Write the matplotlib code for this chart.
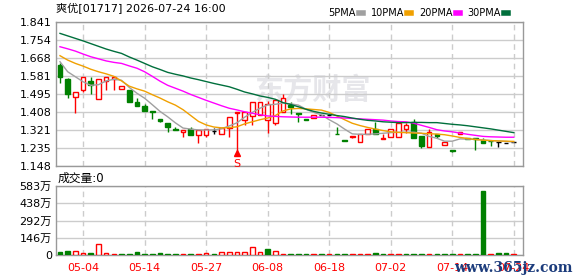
import numpy as np
import matplotlib
matplotlib.use('Agg')
import matplotlib.pyplot as plt
from matplotlib.lines import Line2D

plt.rcParams['font.family'] = ['DejaVu Sans', 'Noto Sans CJK SC']

# 日K 数据
opens = [1.632, 1.565, 1.477, 1.514, 1.556, 1.468, 1.557, 1.564, 1.516, 1.513,
         1.455, 1.436, 1.410, 1.372, 1.354, 1.324, 1.313, 1.324, 1.297, 1.297,
         1.317, 1.303, 1.329, 1.404, 1.369, 1.389, 1.393, 1.367, 1.353, 1.409,
         1.441, 1.402, 1.373, 1.378, 1.392, 1.393, 1.302, 1.273, 1.288, 1.265,
         1.303, 1.324, 1.276, 1.286, 1.286, 1.327, 1.361, 1.292, 1.238, 1.302,
         1.247, 1.224, 1.303, 1.283, 1.282, 1.273, 1.269, 1.263, 1.260, 1.263]
closes = [1.576, 1.493, 1.501, 1.573, 1.537, 1.564, 1.573, 1.576, 1.530, 1.457,
          1.437, 1.413, 1.405, 1.362, 1.337, 1.321, 1.322, 1.297, 1.322, 1.324,
          1.317, 1.329, 1.381, 1.409, 1.409, 1.453, 1.453, 1.444, 1.463, 1.473,
          1.433, 1.396, 1.370, 1.393, 1.392, 1.393, 1.300, 1.266, 1.290, 1.301,
          1.324, 1.303, 1.284, 1.325, 1.356, 1.343, 1.284, 1.246, 1.309, 1.294,
          1.262, 1.222, 1.309, 1.279, 1.276, 1.257, 1.267, 1.263, 1.260, 1.263]
highs = [1.644, 1.568, 1.501, 1.573, 1.575, 1.564, 1.573, 1.578, 1.530, 1.513,
         1.474, 1.445, 1.410, 1.372, 1.354, 1.333, 1.322, 1.333, 1.322, 1.324,
         1.332, 1.329, 1.381, 1.409, 1.409, 1.453, 1.453, 1.460, 1.463, 1.493,
         1.453, 1.402, 1.373, 1.393, 1.392, 1.393, 1.335, 1.273, 1.290, 1.301,
         1.324, 1.361, 1.300, 1.325, 1.356, 1.356, 1.372, 1.292, 1.324, 1.302,
         1.262, 1.224, 1.309, 1.283, 1.282, 1.284, 1.269, 1.263, 1.260, 1.263]
lows = [1.548, 1.476, 1.404, 1.505, 1.495, 1.468, 1.514, 1.514, 1.516, 1.457,
        1.437, 1.413, 1.375, 1.357, 1.313, 1.321, 1.286, 1.297, 1.258, 1.286,
        1.301, 1.303, 1.286, 1.209, 1.345, 1.345, 1.393, 1.305, 1.345, 1.409,
        1.399, 1.357, 1.370, 1.378, 1.392, 1.393, 1.300, 1.266, 1.282, 1.265,
        1.303, 1.303, 1.276, 1.286, 1.286, 1.305, 1.284, 1.236, 1.238, 1.284,
        1.247, 1.214, 1.303, 1.279, 1.226, 1.257, 1.246, 1.238, 1.260, 1.263]
# 成交量 (万)
volume = [25, 34, 34, 17, 17, 93, 17, 8, 8, 8,
          25, 8, 8, 17, 8, 8, 8, 8, 8, 17,
          8, 25, 25, 25, 25, 68, 25, 51, 34, 8,
          8, 7, 7, 7, 7, 7, 7, 7, 7, 7,
          7, 17, 7, 7, 7, 7, 7, 7, 7, 7,
          7, 7, 7, 7, 7, 545, 8, 15, 15, 7]

ma5 = [1.648, 1.600, 1.576, 1.552, 1.535, 1.538, 1.556, 1.564, 1.559, 1.525,
       1.497, 1.473, 1.442, 1.410, 1.384, 1.355, 1.330, 1.325, 1.321, 1.321,
       1.321, 1.327, 1.340, 1.355, 1.382, 1.405, 1.425, 1.441, 1.444, 1.450,
       1.446, 1.440, 1.420, 1.405, 1.393, 1.370, 1.350, 1.325, 1.302, 1.300,
       1.300, 1.302, 1.305, 1.308, 1.310, 1.310, 1.310, 1.305, 1.290, 1.281,
       1.267, 1.267, 1.278, 1.277, 1.276, 1.273, 1.270, 1.268, 1.266, 1.263]
ma10 = [1.677, 1.656, 1.640, 1.627, 1.612, 1.600, 1.590, 1.578, 1.556, 1.531,
        1.518, 1.507, 1.490, 1.474, 1.456, 1.440, 1.418, 1.390, 1.362, 1.345,
        1.335, 1.331, 1.332, 1.336, 1.350, 1.360, 1.370, 1.378, 1.390, 1.412,
        1.422, 1.424, 1.422, 1.419, 1.416, 1.405, 1.388, 1.370, 1.353, 1.342,
        1.333, 1.325, 1.318, 1.312, 1.309, 1.308, 1.306, 1.305, 1.303, 1.301,
        1.298, 1.292, 1.285, 1.280, 1.275, 1.272, 1.270, 1.268, 1.267, 1.266]
ma20 = [1.720, 1.710, 1.699, 1.685, 1.672, 1.662, 1.652, 1.645, 1.640, 1.628,
        1.617, 1.600, 1.578, 1.555, 1.535, 1.521, 1.507, 1.491, 1.477, 1.463,
        1.450, 1.437, 1.425, 1.417, 1.408, 1.401, 1.394, 1.388, 1.386, 1.384,
        1.383, 1.382, 1.382, 1.382, 1.382, 1.381, 1.380, 1.378, 1.376, 1.374,
        1.372, 1.370, 1.368, 1.364, 1.361, 1.360, 1.353, 1.343, 1.333, 1.322,
        1.316, 1.312, 1.306, 1.300, 1.295, 1.290, 1.288, 1.287, 1.286, 1.286]
ma30 = [1.784, 1.772, 1.760, 1.748, 1.735, 1.722, 1.709, 1.698, 1.688, 1.671,
        1.656, 1.640, 1.624, 1.611, 1.597, 1.588, 1.580, 1.570, 1.562, 1.553,
        1.544, 1.536, 1.528, 1.516, 1.503, 1.494, 1.484, 1.477, 1.468, 1.452,
        1.443, 1.432, 1.420, 1.410, 1.402, 1.396, 1.390, 1.385, 1.378, 1.372,
        1.367, 1.364, 1.360, 1.358, 1.356, 1.356, 1.357, 1.357, 1.356, 1.356,
        1.352, 1.348, 1.345, 1.341, 1.336, 1.331, 1.326, 1.320, 1.314, 1.308]

price_ticks = ['1.148', '1.235', '1.321', '1.408', '1.495', '1.581', '1.668', '1.754', '1.841']
vol_ticks = ['0', '146万', '292万', '438万', '583万']
date_pos = [3, 11, 19, 27, 35, 43, 51, 59]
date_labels = ['05-04', '05-14', '05-27', '06-08', '06-18', '07-02', '07-14', '07-24']

RED = '#ff0000'
GREEN = '#008000'

fig = plt.figure(figsize=(5.78, 2.76), dpi=100)
ax = fig.add_axes([56/578, 1-166/276, 467/578, 144.5/276])
axv = fig.add_axes([56/578, 1-255/276, 467/578, 68.7/276])

x = np.arange(len(opens))
w = 0.6

for a in (ax, axv):
    a.set_xlim(-0.52, 60.2)
    for s in a.spines.values():
        s.set_color('#999999')
        s.set_linewidth(1)
    a.set_axisbelow(True)
    a.set_xticks(date_pos)
    a.xaxis.grid(True, color='#cccccc', ls=(0, (4, 3)), lw=1)
    a.yaxis.grid(True, color='#cccccc', lw=1)
    a.tick_params(length=0, labelsize=8, pad=3)

# 水印
ax.text(0.55, 0.53, '东方财富', transform=ax.transAxes, fontsize=21, color='#e6e6ea',
        weight='bold', ha='center', va='center', zorder=0, family='Noto Sans CJK SC')

# K线
for i in x:
    o, c, hi, lo = opens[i], closes[i], highs[i], lows[i]
    if c > o:
        col, face = RED, 'white'
    elif c < o:
        col, face = GREEN, GREEN
    else:
        col, face = 'black', 'black'
    ax.vlines(i, lo, hi, color=col, lw=1, zorder=3)
    ax.bar(i, abs(c - o), bottom=min(o, c), width=w, facecolor=face, edgecolor=col,
           lw=1, zorder=4)

ax.plot(x, ma5, color='#a0a0a0', lw=1, zorder=5)
ax.plot(x, ma10, color='#f0a000', lw=1, zorder=5)
ax.plot(x, ma20, color='#ff00ff', lw=1, zorder=5)
ax.plot(x, ma30, color='#006f3c', lw=1, zorder=5)

ax.set_ylim(1.148, 1.841)
ax.set_yticks(np.linspace(1.148, 1.841, len(price_ticks)))
ax.set_yticklabels(price_ticks)
ax.set_xticklabels([])

ax.plot(23, lows[23], marker='^', color=RED, ms=4, zorder=6, clip_on=False)
ax.annotate('S', xy=(23, lows[23]), xytext=(0, -4), textcoords='offset points',
            ha='center', va='top', color=RED, fontsize=8, zorder=6)

handles = [Line2D([0], [0], color=cl, lw=4) for cl in ['#a0a0a0', '#f0a000', '#ff00ff', '#006f3c']]
ax.legend(handles, ['5PMA', '10PMA', '20PMA', '30PMA'], loc='lower right',
          bbox_to_anchor=(0.976, 1.0), ncol=4, frameon=False, markerfirst=False,
          handlelength=0.45, handletextpad=0.3, columnspacing=0.8, fontsize=7,
          borderaxespad=0.1, borderpad=0.25)

fig.text(56/578, 1-9/276, '爽优[01717] 2026-07-24 16:00', fontsize=8, va='center', ha='left')
fig.text(58/578, 1-178/276, '成交量:0', fontsize=8.5, va='center', ha='left')

# 成交量
for i in x:
    up = closes[i] > opens[i] if i == 0 else closes[i] >= closes[i-1]
    if up:
        axv.bar(i, volume[i], width=w, facecolor='white', edgecolor=RED, lw=1, zorder=3)
    else:
        axv.bar(i, volume[i], width=w, facecolor=GREEN, edgecolor=GREEN, lw=1, zorder=3)
axv.set_ylim(0, 583)
axv.set_yticks([0, 146, 292, 438, 583])
axv.set_yticklabels(vol_ticks)
axv.set_xticklabels(date_labels, color=RED)
axv.tick_params(axis='x', pad=6)

fig.text(513/578, 1-268/276, 'www.365jz.com', fontsize=10, color='#1c3c7c', weight='bold',
         family='DejaVu Serif', ha='center', va='center')

fig.savefig('out.png', dpi=100)
